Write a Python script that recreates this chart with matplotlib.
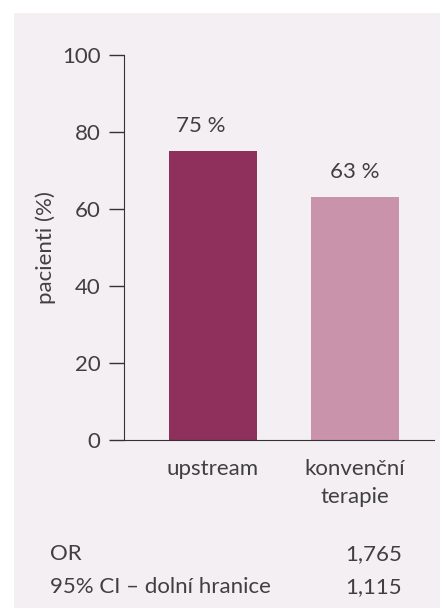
import matplotlib.pyplot as plt
from matplotlib.patches import Rectangle

# data
skupiny = ["upstream", "konvenční\nterapie"]
hodnoty = [75, 63]
barvy = ["#8e2f5c", "#c893ab"]
yticky = [0, 20, 40, 60, 80, 100]
tabulka_popisky = ["OR", "95% CI – dolní hranice"]
tabulka_hodnoty = ["1,765", "1,115"]

plt.rcParams["font.family"] = ["Lato", "DejaVu Sans"]
text_barva = "#404040"
pozadi = "#f4eff2"
fs = 16

fig = plt.figure(figsize=(4.4, 6.08), dpi=100)
fig.patch.set_facecolor("white")
fig.patches.append(Rectangle((14 / 440, 0), 1, (608 - 13) / 608,
                             transform=fig.transFigure, facecolor=pozadi,
                             edgecolor="none", zorder=-5))

ax = fig.add_axes([124 / 440, 168 / 608, 310 / 440, 385 / 608])
ax.set_facecolor("none")
ax.set_zorder(2)

x = range(len(skupiny))
ax.bar(x, hodnoty, width=0.62, color=barvy, zorder=2)

# popisky hodnot nad sloupci (první je v originále trochu vlevo)
posun = [-0.085, 0]
for i, v in enumerate(hodnoty):
    ax.text(i + posun[i], v + 6.5, f"{v} %", ha="center", va="center",
            fontsize=fs, color=text_barva)

ax.set_xlim(-0.627, 1.556)
ax.set_ylim(0, 100)
ax.set_yticks(yticky)
ax.set_xticks(list(x))
ax.set_xticklabels(skupiny, fontsize=fs, color=text_barva, linespacing=1.45)
ax.tick_params(axis="x", length=0, pad=14)
ax.tick_params(axis="y", length=11, width=1, color="#333333",
               labelsize=fs, labelcolor=text_barva, pad=6)

for s in ["top", "right"]:
    ax.spines[s].set_visible(False)
ax.spines["left"].set_color("#333333")
ax.spines["bottom"].set_color("#333333")

ax.set_ylabel("pacienti (%)", fontsize=fs, color=text_barva, labelpad=4)

for i, (p, h) in enumerate(zip(tabulka_popisky, tabulka_hodnoty)):
    yy = 1 - (554 + i * 33) / 608
    fig.text(50 / 440, yy, p, ha="left", va="center", fontsize=fs,
             color=text_barva)
    fig.text(402 / 440, yy, h, ha="right", va="center", fontsize=fs,
             color=text_barva)

fig.savefig("out.png", dpi=100)
